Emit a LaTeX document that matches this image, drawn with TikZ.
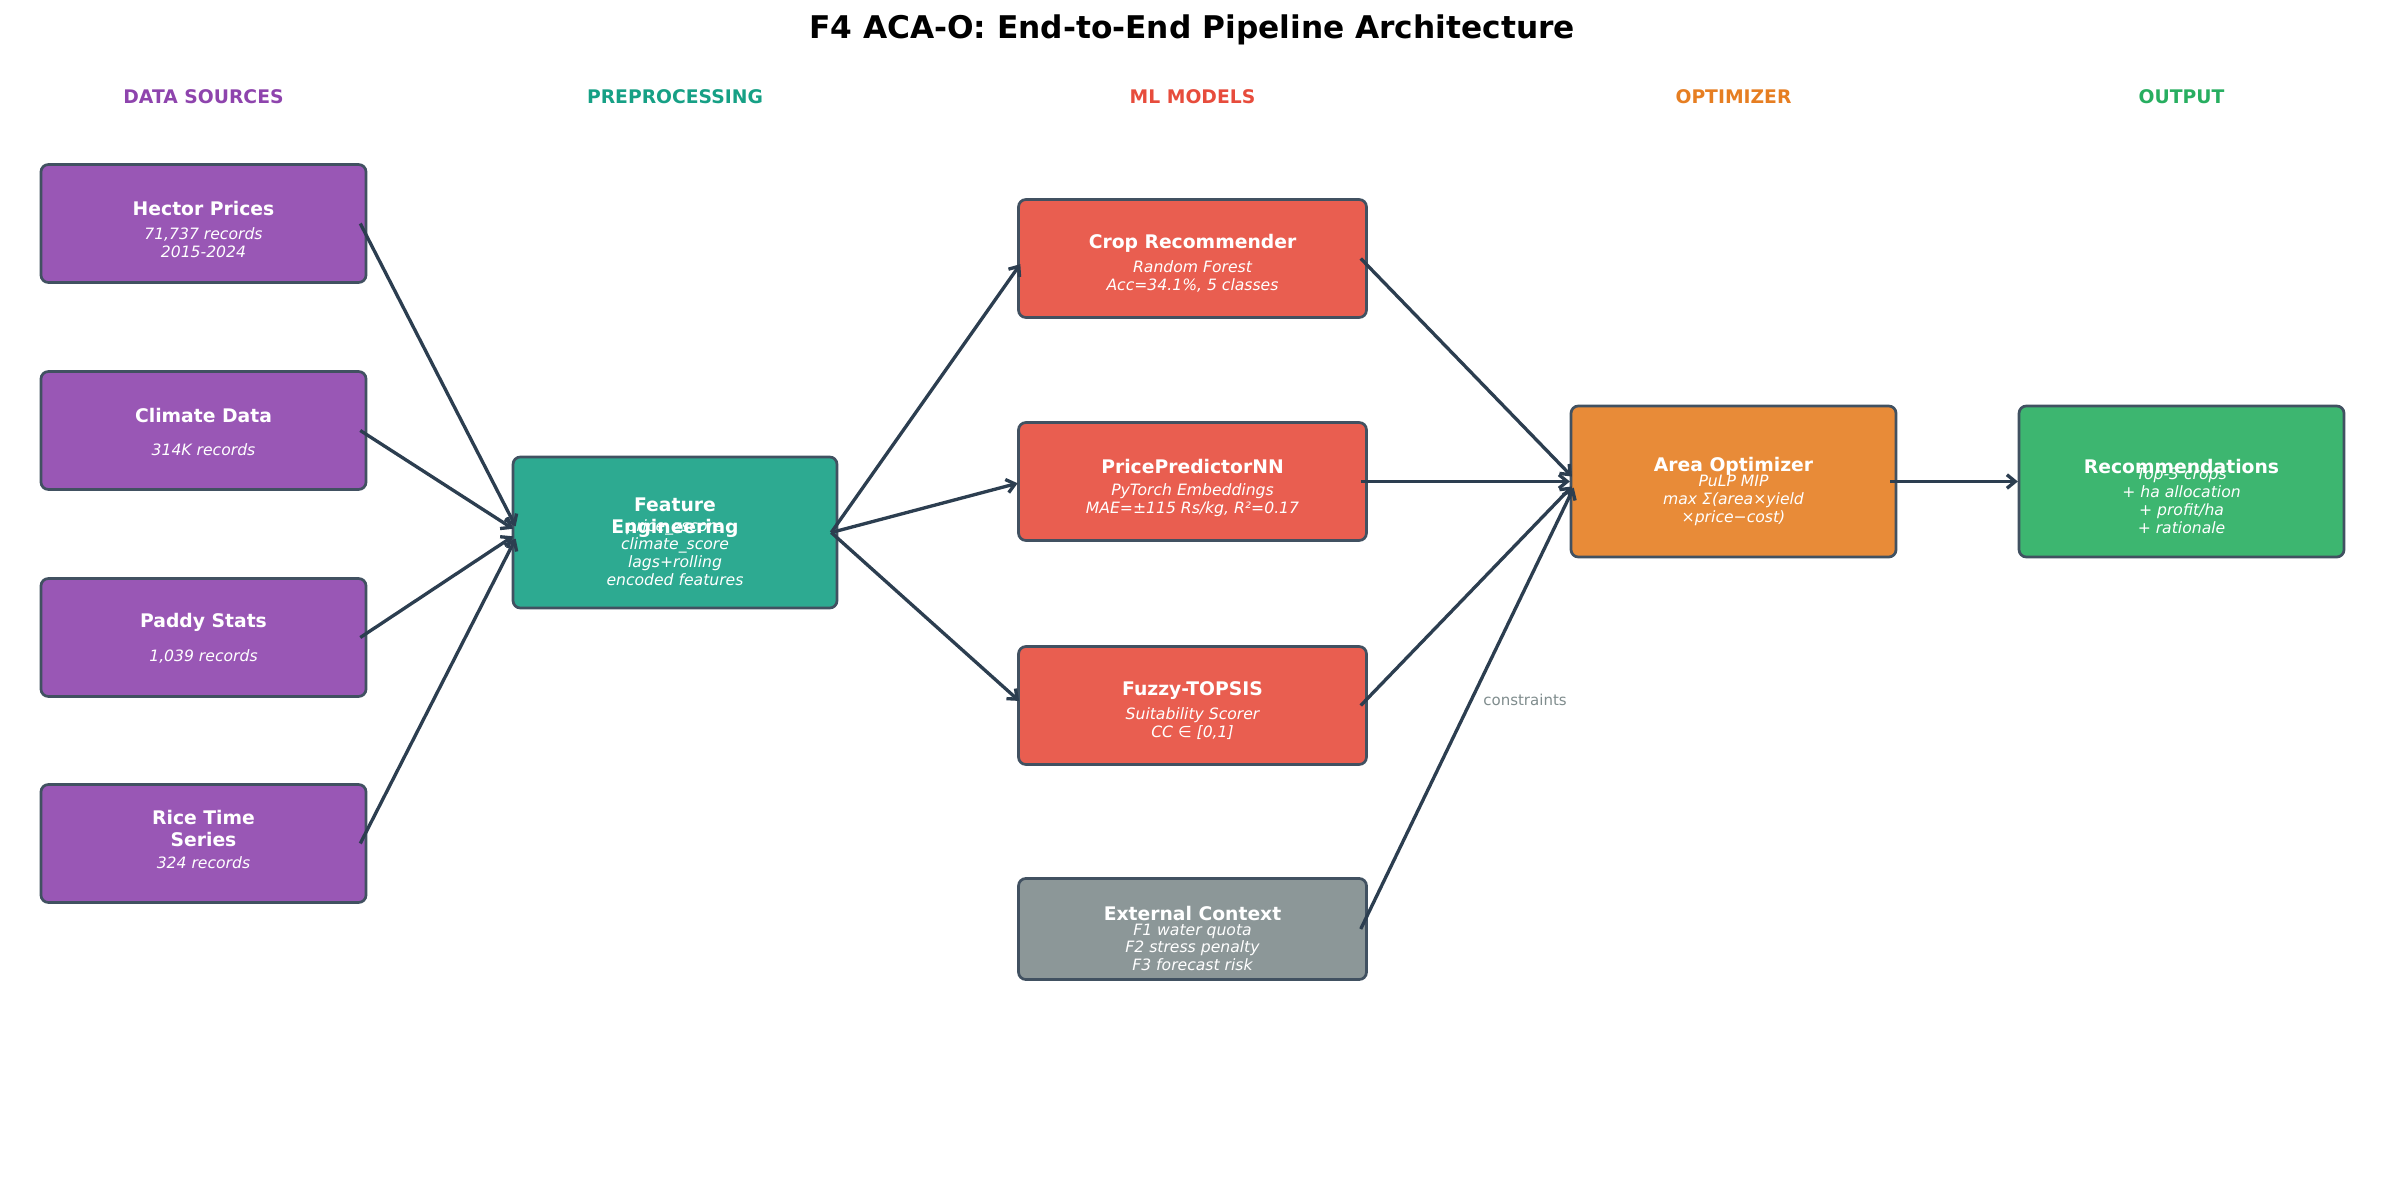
\documentclass[tikz,border=0pt]{standalone}
\usepackage{fontspec}
\setmainfont{DejaVu Sans}
\usetikzlibrary{arrows.meta}
\definecolor{dark}{HTML}{2C3E50}
\definecolor{cpur}{HTML}{8E44AD}
\definecolor{cteal}{HTML}{16A085}
\definecolor{cred}{HTML}{E74C3C}
\definecolor{corg}{HTML}{E67E22}
\definecolor{cgrn}{HTML}{27AE60}
\definecolor{cgry}{HTML}{7F8C8D}
\tikzset{
 box/.style={draw=dark!90!white, line width=1.3pt, rounded corners=3.5pt, inner sep=0pt},
 dsbox/.style={box, fill=cpur!90!white, minimum width=156pt, minimum height=56.6pt},
 febox/.style={box, fill=cteal!90!white, minimum width=155.5pt, minimum height=72.5pt},
 mlbox/.style={box, fill=cred!90!white, minimum width=167pt, minimum height=56.6pt},
 exbox/.style={box, fill=cgry!90!white, minimum width=167pt, minimum height=48.5pt},
 opbox/.style={box, fill=corg!90!white, minimum width=156pt, minimum height=72.5pt},
 rcbox/.style={box, fill=cgrn!90!white, minimum width=156pt, minimum height=72.5pt},
 ttl/.style={text=white, font=\bfseries\fontsize{9}{10.8}\selectfont, align=center, inner sep=0pt},
 sub/.style={text=white, font=\itshape\fontsize{7.5}{8.6}\selectfont, align=center, inner sep=0pt},
 hdr/.style={font=\bfseries\fontsize{9}{10.8}\selectfont, inner sep=0pt},
 arr/.style={draw=dark, line width=1.6pt, -{Straight Barb[length=4pt,width=6.5pt]}, shorten >=3.3pt},
}
\begin{document}
\begin{tikzpicture}[x=0.48pt, y=-0.48pt]
\useasboundingbox (0,-1.5) rectangle (2385,1182.5);
\node[font=\bfseries\fontsize{15}{18}\selectfont, inner sep=0pt] (title) at (1192,28) {F4 ACA-O: End-to-End Pipeline Architecture};
\node[hdr, text=cpur] (h1) at (203.5,95) {DATA SOURCES};
\node[hdr, text=cteal] (h2) at (675,95) {PREPROCESSING};
\node[hdr, text=cred] (h3) at (1192.5,95) {ML MODELS};
\node[hdr, text=corg] (h4) at (1733.5,95) {OPTIMIZER};
\node[hdr, text=cgrn] (h5) at (2181.5,95) {OUTPUT};

% data sources
\node[dsbox] (hector) at (203.5,222) {};
\node[ttl] (hectorT) at ([yshift=7.2pt]hector.center) {Hector Prices};
\node[sub] (hectorS) at ([yshift=-9.1pt]hector.center) {71,737 records\\2015-2024};
\node[dsbox] (climate) at (203.5,429) {};
\node[ttl] (climateT) at ([yshift=7.2pt]climate.center) {Climate Data};
\node[sub] (climateS) at ([yshift=-9.1pt]climate.center) {314K records};
\node[dsbox] (paddy) at (203.5,636) {};
\node[ttl] (paddyT) at ([yshift=7.2pt]paddy.center) {Paddy Stats};
\node[sub] (paddyS) at ([yshift=-9.1pt]paddy.center) {1,039 records};
\node[dsbox] (rice) at (203.5,842) {};
\node[ttl] (riceT) at ([yshift=7.2pt]rice.center) {Rice Time\\Series};
\node[sub] (riceS) at ([yshift=-9.1pt]rice.center) {324 records};

% feature engineering
\node[febox] (fe) at (675,531) {};
\node[ttl] (feT) at ([yshift=7.2pt]fe.center) {Feature\\Engineering};
\node[sub] (feS) at ([yshift=-9.6pt]fe.center) {price\_zscore\\climate\_score\\lags+rolling\\encoded features};

% ML models
\node[mlbox] (crop) at (1192.5,257) {};
\node[ttl] (cropT) at ([yshift=7.2pt]crop.center) {Crop Recommender};
\node[sub] (cropS) at ([yshift=-8.8pt]crop.center) {Random Forest\\Acc=34.1\%, 5 classes};
\node[mlbox] (price) at (1192.5,480) {};
\node[ttl] (priceT) at ([yshift=7.2pt]price.center) {PricePredictorNN};
\node[sub] (priceS) at ([yshift=-8.8pt]price.center) {PyTorch Embeddings\\MAE=±115 Rs/kg, R²=0.17};
\node[mlbox] (fuzzy) at (1192.5,704) {};
\node[ttl] (fuzzyT) at ([yshift=7.2pt]fuzzy.center) {Fuzzy-TOPSIS};
\node[sub] (fuzzyS) at ([yshift=-8.8pt]fuzzy.center) {Suitability Scorer\\CC ∈ [0,1]};
\node[exbox] (ext) at (1192.5,927.5) {};
\node[ttl] (extT) at ([yshift=7.2pt]ext.center) {External Context};
\node[sub] (extS) at ([yshift=-8.8pt]ext.center) {F1 water quota\\F2 stress penalty\\F3 forecast risk};

% optimizer and output
\node[opbox] (opt) at (1733.5,480) {};
\node[ttl] (optT) at ([yshift=7.2pt]opt.center) {Area Optimizer};
\node[sub] (optS) at ([yshift=-9.1pt]opt.center) {PuLP MIP\\max Σ(area×yield\\×price−cost)};
\node[rcbox] (rec) at (2181.5,480) {};
\node[ttl] (recT) at ([yshift=7.2pt]rec.center) {Recommendations};
\node[sub] (recS) at ([yshift=-9.4pt]rec.center) {Top-3 crops\\+ ha allocation\\+ profit/ha\\+ rationale};

% connectors
\foreach \s in {hector,climate,paddy,rice}
  \draw[arr] ([xshift=-3.4pt]\s.east) -- ([xshift=3.4pt]fe.west);
\foreach \t in {crop,price,fuzzy}
  \draw[arr] ([xshift=-3.4pt]fe.east) -- ([xshift=3.4pt]\t.west);
\foreach \s in {crop,price,fuzzy,ext}
  \draw[arr] ([xshift=-3.4pt]\s.east) -- ([xshift=3.4pt]opt.west);
\draw[arr] ([xshift=-3.4pt]opt.east) -- ([xshift=3.4pt]rec.west);
\node[text=cgry, font=\fontsize{7.2}{8.6}\selectfont, inner sep=0pt] (cons) at (1525,698) {constraints};
\end{tikzpicture}
\end{document}
